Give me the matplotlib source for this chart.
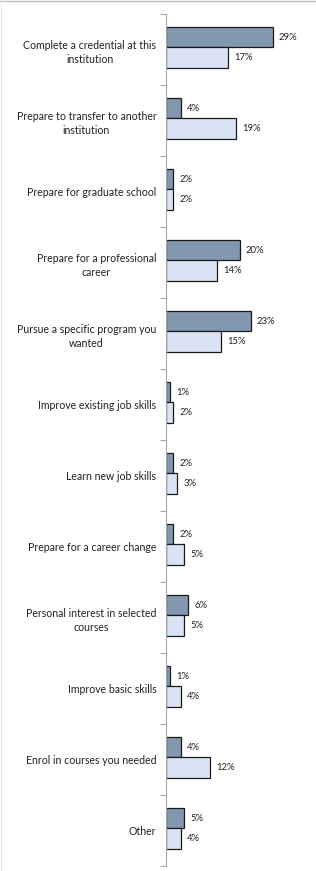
import matplotlib
matplotlib.use("Agg")
import matplotlib.pyplot as plt
from matplotlib.lines import Line2D

# reasons for attending, two groups of respondents
reasons = ['Complete a credential at this\ninstitution',
           'Prepare to transfer to another\ninstitution',
           'Prepare for graduate school',
           'Prepare for a professional\ncareer',
           'Pursue a specific program you\nwanted',
           'Improve existing job skills',
           'Learn new job skills',
           'Prepare for a career change',
           'Personal interest in selected\ncourses',
           'Improve basic skills',
           'Enrol in courses you needed',
           'Other']
group_a = [29, 4, 2, 20, 23, 1, 2, 2, 6, 1, 4, 5]
group_b = [17, 19, 2, 14, 15, 2, 3, 5, 5, 4, 12, 4]

plt.rcParams['font.family'] = ['Lato', 'DejaVu Sans']

fig = plt.figure(figsize=(3.16, 8.71), dpi=100)
ax = fig.add_axes([166/316, 5/871, 147/316, 852/871])

pos = list(range(len(reasons)))
h = 0.29
pa = [p - 0.175 for p in pos]
pb = [p + 0.115 for p in pos]
ax.barh(pa, group_a, height=h, color='#8497B0', edgecolor='#1a1a1a', linewidth=0.9)
ax.barh(pb, group_b, height=h, color='#DAE3F3', edgecolor='#1a1a1a', linewidth=0.9)

for y, v in zip(pa, group_a):
    ax.annotate(f'{v}%', (v, y), xytext=(4.5, 0), textcoords='offset points',
                va='center', ha='left', fontsize=6.8, color='#222222')
for y, v in zip(pb, group_b):
    ax.annotate(f'{v}%', (v, y), xytext=(4.5, 0), textcoords='offset points',
                va='center', ha='left', fontsize=6.8, color='#222222')

ax.set_xlim(0, 40)
ax.set_ylim(len(reasons) - 0.5, -0.5)
ax.set_yticks(pos)
ax.set_yticklabels(reasons, fontsize=7.6, color='#222222', multialignment='center',
                   linespacing=1.4)
ax.set_yticks([p - 0.5 for p in pos] + [len(reasons) - 0.5], minor=True)
ax.tick_params(axis='y', which='major', length=0, pad=7)
ax.tick_params(axis='y', which='minor', length=4, color='#A6A6A6', width=0.8)
ax.set_xticks([])
for s in ['top', 'right', 'bottom']:
    ax.spines[s].set_visible(False)
ax.spines['left'].set_color('#A6A6A6')
ax.spines['left'].set_linewidth(0.8)

# thin frame around the chart area
fig.add_artist(Line2D([0, 1], [1 - 1.5/871, 1 - 1.5/871], color='#BFBFBF', linewidth=1))
fig.add_artist(Line2D([0.5/316, 0.5/316], [0, 1], color='#E6E6E6', linewidth=0.8))

fig.savefig('out.png', dpi=100)
